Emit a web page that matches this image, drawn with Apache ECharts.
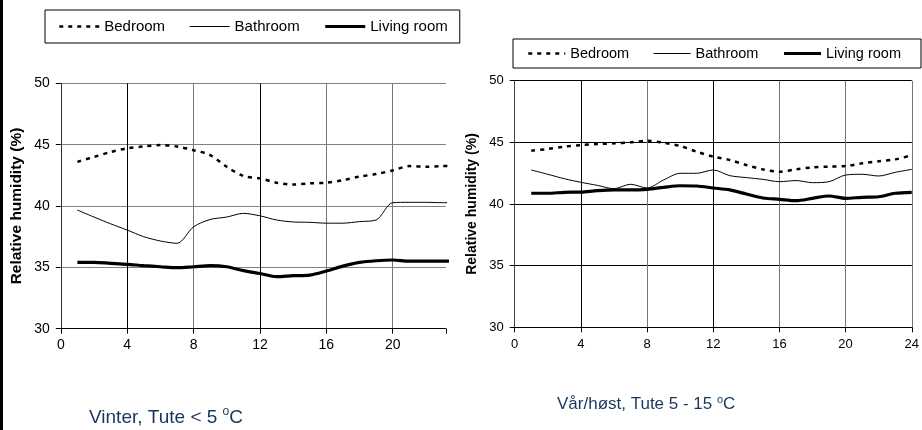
<!DOCTYPE html>
<html>
<head>
<meta charset="utf-8">
<script src="https://cdn.jsdelivr.net/npm/echarts@6/dist/echarts.min.js"></script>
<style>html,body{margin:0;padding:0;background:#fff}#c{width:922px;height:430px}</style>
</head>
<body>
<div id="c"></div>
<script>
const seriesNames = ['Bedroom', 'Bathroom', 'Living room'];
const hours = [1,2,3,4,5,6,7,8,9,10,11,12,13,14,15,16,17,18,19,20,21,22,23,24];
const xTicks = [0,4,8,12,16,20,24];
const yTicks = [30,35,40,45,50];

const winterBedroom  = [43.6,44.0,44.4,44.7,44.85,44.97,44.85,44.55,44.15,43.2,42.45,42.25,41.9,41.75,41.85,41.9,42.1,42.4,42.6,42.9,43.25,43.2,43.25,43.25];
const winterBathroom = [39.67,39.1,38.55,38.04,37.5,37.15,36.96,38.3,38.9,39.1,39.4,39.2,38.86,38.7,38.67,38.6,38.6,38.73,38.86,40.27,40.3,40.3,40.27,40.27];
const winterLiving   = [35.41,35.41,35.33,35.25,35.14,35.05,34.97,35.05,35.14,35.05,34.73,34.5,34.24,34.32,34.37,34.7,35.1,35.4,35.54,35.6,35.5,35.5,35.5,35.5];

const springBedroom  = [44.32,44.46,44.65,44.78,44.86,44.92,45.0,45.13,44.97,44.7,44.24,43.84,43.57,43.16,42.81,42.62,42.81,42.97,43.03,43.08,43.3,43.46,43.62,43.95];
const springBathroom = [42.76,42.41,42.05,41.76,41.51,41.24,41.6,41.3,41.95,42.49,42.49,42.76,42.3,42.14,42.0,41.81,41.9,41.73,41.81,42.35,42.41,42.27,42.57,42.81];
const springLiving   = [40.87,40.87,40.95,40.97,41.08,41.14,41.14,41.19,41.35,41.48,41.46,41.3,41.14,40.81,40.49,40.38,40.27,40.46,40.65,40.46,40.54,40.59,40.87,40.95];

const titleLeft = ['Vinter, Tute < 5 ', 'o', 'C'];
const titleRight = ['Vår/høst, Tute 5 - 15 ', 'o', 'C'];
const yName = 'Relative humidity (%)';

const FONT = '"Liberation Sans", Arial, Helvetica, sans-serif';
const pairs = (vals) => hours.map((h, i) => [h, vals[i]]);

function mkSeries(name, vals, xi, style) {
  return {
    name, type: 'line', xAxisIndex: xi, yAxisIndex: xi,
    data: pairs(vals), symbol: 'none', smooth: 0.3, clip: true,
    lineStyle: Object.assign({color: '#000'}, style),
    itemStyle: {color: '#000'}, emphasis: {disabled: true}, animation: false
  };
}
const bedStyle = {width: 2.5, type: [4, 5]};
const bathStyle = {width: 1, type: 'solid'};
const livStyle = {width: 3.2, type: 'solid'};

function mkRich(big, small) {
  return {
    a: {fontSize: big, fontWeight: 'normal', color: '#17375e', fontFamily: FONT, lineHeight: big + 4},
    s: {fontSize: small, fontWeight: 'normal', color: '#17375e', fontFamily: FONT, verticalAlign: 'top', lineHeight: small}
  };
}
const mkTitle = (t) => '{a|' + t[0] + '}{s|' + t[1] + '}{a|' + t[2] + '}';

const chart = echarts.init(document.getElementById('c'), null, {renderer: 'canvas'});
chart.setOption({
  animation: false,
  backgroundColor: '#fff',
  textStyle: {fontFamily: FONT},
  graphic: [{type: 'rect', left: 0, top: 0, shape: {width: 3, height: 430}, style: {fill: '#000'}}],
  title: [
    {text: mkTitle(titleLeft), left: 89, top: 406, padding: 0,
     textStyle: {fontWeight: 'normal', rich: mkRich(19, 12)}},
    {text: mkTitle(titleRight), left: 557, top: 394, padding: 0,
     textStyle: {fontWeight: 'normal', rich: mkRich(17, 11)}}
  ],
  legend: [
    {data: seriesNames, left: 45, top: 10, padding: [9, 12, 9, 13], itemWidth: 40, itemHeight: 14, itemGap: 24,
     borderColor: '#000', borderWidth: 1, selectedMode: false,
     itemStyle: {opacity: 0}, lineStyle: {width: 'inherit', type: 'inherit'},
     textStyle: {fontSize: 15, color: '#000', fontFamily: FONT}},
    {data: seriesNames, left: 513, top: 39, padding: [7, 20, 7, 14], itemWidth: 37, itemHeight: 14, itemGap: 24,
     borderColor: '#000', borderWidth: 1, selectedMode: false,
     itemStyle: {opacity: 0}, lineStyle: {width: 'inherit', type: 'inherit'},
     textStyle: {fontSize: 14.5, color: '#000', fontFamily: FONT}}
  ],
  grid: [
    {left: 60.8, top: 83.3, width: 385, height: 245.4, containLabel: false},
    {left: 514.7, top: 80.7, width: 399, height: 246.6, containLabel: false}
  ],
  xAxis: [
    {type: 'value', gridIndex: 0, min: 0, max: 23.2, interval: 4,
     axisLine: {onZero: false, lineStyle: {color: '#000', width: 1}},
     axisTick: {show: true, inside: false, length: 5, lineStyle: {color: '#000'}},
     axisLabel: {fontSize: 14, color: '#000', margin: 9, fontFamily: FONT,
                 formatter: v => (xTicks.indexOf(v) >= 0 ? String(v) : '')},
     splitLine: {show: true, showMaxLine: false, lineStyle: {color: ['#222', '#000', '#777', '#000', '#777', '#777'], width: 1}}},
    {type: 'value', gridIndex: 1, min: 0, max: 24, interval: 4,
     axisLine: {onZero: false, lineStyle: {color: '#000', width: 1}},
     axisTick: {show: true, inside: false, length: 5, lineStyle: {color: '#000'}},
     axisLabel: {fontSize: 13, color: '#000', margin: 11, fontFamily: FONT,
                 formatter: v => (xTicks.indexOf(v) >= 0 ? String(v) : '')},
     splitLine: {show: true, lineStyle: {color: ['#555', '#000', '#777', '#000', '#777', '#777', '#777'], width: 1}}}
  ],
  yAxis: [
    {type: 'value', gridIndex: 0, min: 30, max: 50, interval: 5,
     name: yName, nameLocation: 'middle', nameGap: 36, nameRotate: 90,
     nameTextStyle: {fontSize: 15.5, fontWeight: 'bold', color: '#000', fontFamily: FONT},
     axisLine: {show: true, onZero: false, lineStyle: {color: '#333', width: 1}},
     axisTick: {show: true, inside: false, length: 5, lineStyle: {color: '#000'}},
     axisLabel: {fontSize: 14, color: '#000', margin: 11, fontFamily: FONT,
                 formatter: v => (yTicks.indexOf(v) >= 0 ? String(v) : '')},
     splitLine: {show: true, lineStyle: {color: '#808080', width: 1}}},
    {type: 'value', gridIndex: 1, min: 30, max: 50, interval: 5,
     name: yName, nameLocation: 'middle', nameGap: 36, nameRotate: 90,
     nameTextStyle: {fontSize: 14, fontWeight: 'bold', color: '#000', fontFamily: FONT},
     axisLine: {show: true, onZero: false, lineStyle: {color: '#444', width: 1}},
     axisTick: {show: true, inside: false, length: 5, lineStyle: {color: '#000'}},
     axisLabel: {fontSize: 13, color: '#000', margin: 11, fontFamily: FONT,
                 formatter: v => (yTicks.indexOf(v) >= 0 ? String(v) : '')},
     splitLine: {show: true, lineStyle: {color: '#000', width: 1}}}
  ],
  series: [
    mkSeries(seriesNames[0], winterBedroom, 0, bedStyle),
    mkSeries(seriesNames[1], winterBathroom, 0, bathStyle),
    mkSeries(seriesNames[2], winterLiving, 0, livStyle),
    mkSeries(seriesNames[0], springBedroom, 1, bedStyle),
    mkSeries(seriesNames[1], springBathroom, 1, bathStyle),
    mkSeries(seriesNames[2], springLiving, 1, livStyle)
  ]
});
</script>
</body>
</html>
